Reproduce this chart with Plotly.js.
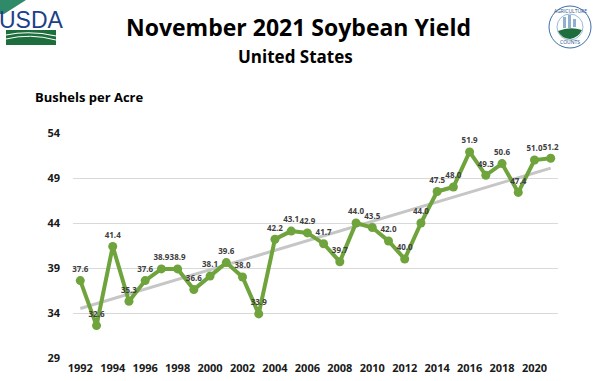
<!DOCTYPE html>
<html>
<head>
<meta charset="utf-8">
<script src="https://cdn.plot.ly/plotly-3.0.1.min.js"></script>
<style>html,body{margin:0;padding:0;background:#fff;}#chart{width:600px;height:381px;}</style>
</head>
<body>
<div id="chart"></div>
<script>
const years = [1992,1993,1994,1995,1996,1997,1998,1999,2000,2001,2002,2003,2004,2005,2006,2007,2008,2009,2010,2011,2012,2013,2014,2015,2016,2017,2018,2019,2020,2021];
const yieldValues = [37.6,32.6,41.4,35.3,37.6,38.9,38.9,36.6,38.1,39.6,38.0,33.9,42.2,43.1,42.9,41.7,39.7,44.0,43.5,42.0,40.0,44.0,47.5,48.0,51.9,49.3,50.6,47.4,51.0,51.2];
const trendYears = [1992, 2021];
const trendValues = [34.5, 50.1];
const yTicks = [29,34,39,44,49,54];
const xTickYears = [1992,1994,1996,1998,2000,2002,2004,2006,2008,2010,2012,2014,2016,2018,2020];

const font = "Open Sans, Liberation Sans, sans-serif";

const trend = {
  x: trendYears, y: trendValues, type: 'scatter', mode: 'lines',
  line: {color: '#c6c6c6', width: 3}, hoverinfo: 'skip', showlegend: false
};
const series = {
  x: years, y: yieldValues, type: 'scatter', mode: 'lines+markers+text',
  line: {color: '#6fa33c', width: 4},
  marker: {color: '#6fa33c', size: 9},
  text: yieldValues.map(v => v.toFixed(1)),
  textposition: 'top center',
  textfont: {family: font, size: 8, color: '#404040', weight: 'bold'},
  showlegend: false, cliponaxis: false
};

// pixel helper: page coords -> offsets relative to plot top-left (x=73, y=133)
const L = 73, T = 133;
function px(x) { return x - L; }
function py(y) { return T - y; }
function shp(o) {
  return Object.assign({xref: 'paper', yref: 'paper', xsizemode: 'pixel', ysizemode: 'pixel', xanchor: 0, yanchor: 1}, o);
}

const layout = {
  width: 600, height: 381,
  margin: {l: 73, r: 42, t: 133, b: 23},
  paper_bgcolor: '#ffffff', plot_bgcolor: '#ffffff',
  showlegend: false,
  xaxis: {
    range: [1991.55, 2021.45],
    tickvals: xTickYears, ticktext: xTickYears.map(String),
    showgrid: false, zeroline: false, showline: false, ticks: '',
    tickfont: {family: font, size: 11, color: '#1a1a1a', weight: 'bold'},
    ticklabelstandoff: 2
  },
  yaxis: {
    range: [29, 54],
    tickvals: yTicks, ticktext: yTicks.map(String),
    showgrid: true, gridcolor: '#d9d9d9', gridwidth: 1,
    zeroline: false, showline: false, ticks: '',
    tickfont: {family: font, size: 11, color: '#1a1a1a', weight: 'bold'},
    ticklabelstandoff: 12
  },
  annotations: [
    {xref: 'paper', yref: 'paper', x: 0, y: 1, xanchor: 'center', yanchor: 'middle',
     text: 'November 2021 Soybean Yield', showarrow: false,
     xshift: px(298), yshift: py(27),
     font: {family: font, size: 23, color: '#000000', weight: 'bold'}},
    {xref: 'paper', yref: 'paper', x: 0, y: 1, xanchor: 'center', yanchor: 'middle',
     text: 'United States', showarrow: false, xshift: px(295), yshift: py(56),
     font: {family: font, size: 17, color: '#000000', weight: 'bold'}},
    {xref: 'paper', yref: 'paper', x: 0, y: 1, xanchor: 'left', yanchor: 'middle',
     text: 'Bushels per Acre', showarrow: false, xshift: px(33), yshift: py(97),
     font: {family: font, size: 13, color: '#000000', weight: 'bold'}},
    {xref: 'paper', yref: 'paper', x: 0, y: 1, xanchor: 'center', yanchor: 'middle',
     text: 'USDA', showarrow: false, xshift: px(31), yshift: py(20),
     font: {family: 'Liberation Sans Narrow, Liberation Sans, sans-serif', size: 23, color: '#1d3f8a'}},
    {xref: 'paper', yref: 'paper', x: 0, y: 1, xanchor: 'center', yanchor: 'middle',
     text: 'AGRICULTURE', showarrow: false, xshift: px(570), yshift: py(11),
     font: {family: font, size: 5, color: '#1d4f8a'}},
    {xref: 'paper', yref: 'paper', x: 0, y: 1, xanchor: 'center', yanchor: 'middle',
     text: 'COUNTS', showarrow: false, xshift: px(570), yshift: py(42),
     font: {family: font, size: 5, color: '#1d4f8a'}}
  ],
  shapes: [
    shp({type: 'path', path: `M ${px(0)} ${py(0)} L ${px(26)} ${py(0)} L ${px(4)} ${py(14)} L ${px(0)} ${py(14)} Z`,
         fillcolor: '#2f8a6a', line: {width: 0}}),
    shp({type: 'rect', x0: px(6), x1: px(56), y0: py(45), y1: py(30), fillcolor: '#1d6e3c', line: {width: 0}}),
    shp({type: 'path', path: `M ${px(6)} ${py(35)} Q ${px(30)} ${py(30)} ${px(56)} ${py(36)}`, line: {color: '#ffffff', width: 1.2}}),
    shp({type: 'path', path: `M ${px(6)} ${py(39)} Q ${px(30)} ${py(33)} ${px(56)} ${py(40)}`, line: {color: '#ffffff', width: 1}}),
    shp({type: 'circle', x0: px(549), x1: px(591), y0: py(48), y1: py(6), fillcolor: '#ffffff', line: {color: '#3b6ea8', width: 1}}),
    shp({type: 'circle', x0: px(557), x1: px(583), y0: py(40), y1: py(14), fillcolor: '#ffffff', line: {color: '#9bbbd8', width: 1}}),
    shp({type: 'path', path: `M ${px(558)} ${py(31)} Q ${px(570)} ${py(26)} ${px(582)} ${py(30)} Q ${px(578)} ${py(38)} ${px(570)} ${py(39)} Q ${px(561)} ${py(38)} ${px(558)} ${py(31)} Z`,
         fillcolor: '#1d6e3c', line: {width: 0}}),
    shp({type: 'rect', x0: px(563), x1: px(566), y0: py(28), y1: py(17), fillcolor: '#8fb0d0', line: {width: 0}}),
    shp({type: 'rect', x0: px(568), x1: px(571), y0: py(28), y1: py(15), fillcolor: '#8fb0d0', line: {width: 0}}),
    shp({type: 'rect', x0: px(573), x1: px(576), y0: py(27), y1: py(19), fillcolor: '#8fb0d0', line: {width: 0}})
  ]
};

Plotly.newPlot('chart', [trend, series], layout, {displayModeBar: false, staticPlot: true});
</script>
</body>
</html>
